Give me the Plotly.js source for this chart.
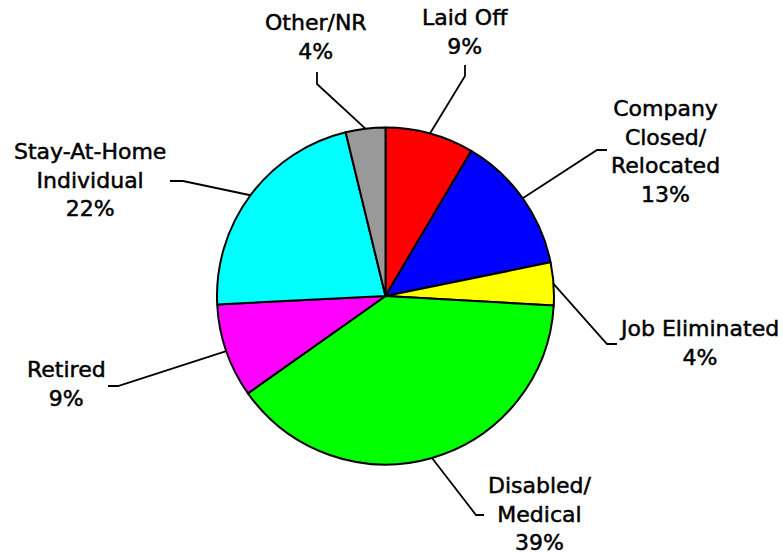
<!DOCTYPE html>
<html>
<head>
<meta charset="utf-8">
<script src="https://cdn.plot.ly/plotly-3.0.1.min.js"></script>
<style>
html,body{margin:0;padding:0;background:#fff;}
#chart{width:783px;height:554px;}
#chart .annotation-text{stroke:#000;stroke-width:0.5px;}
</style>
</head>
<body>
<div id="chart"></div>
<script>
// ---- data ----
const categories = ["Laid Off", "Company Closed/ Relocated", "Job Eliminated", "Disabled/ Medical", "Retired", "Stay-At-Home Individual", "Other/NR"];
const labelLines = ["Laid Off", "Company<br>Closed/<br>Relocated", "Job Eliminated", "Disabled/<br>Medical", "Retired", "Stay-At-Home<br>Individual", "Other/NR"];
const values = [8.5, 13.3, 4.1, 39.3, 9.0, 22.0, 3.8];
const percentLabels = ["9%", "13%", "4%", "39%", "9%", "22%", "4%"];
const colors = ["#FF0000", "#0000FF", "#FFFF00", "#00FF00", "#FF00FF", "#00FFFF", "#999999"];

// ---- layout constants (pixels) ----
const W = 783, H = 554;
const CX = 385.5, CY = 296, R = 168.5;
// label text centres and leader elbow points (pixels)
const labelPos = [[465, 32], [665, 151], [699, 343], [540, 514], [66, 384], [90, 180], [316, 37]];
const elbows = [[[465, 76], [465, 65]], [[597, 150], [607, 150]], [[607, 344], [617, 344]], [[476, 515], [484, 515]], [[118, 386], [108, 386]], [[183, 181], [170, 181]], [[317, 84], [317, 72]]];

const px = x => x / W;
const py = y => 1 - y / H;

const total = values.reduce((a, b) => a + b, 0);
let cum = 0;
const shapes = [];
const annotations = [];
values.forEach((v, i) => {
  const mid = (cum + v / 2) / total;
  cum += v;
  const ang = mid * 2 * Math.PI;
  const ax = CX + R * Math.sin(ang), ay = CY - R * Math.cos(ang);
  let path = `M ${px(ax)} ${py(ay)}`;
  elbows[i].forEach(p => { path += ` L ${px(p[0])} ${py(p[1])}`; });
  shapes.push({type: 'path', xref: 'paper', yref: 'paper', path: path, line: {color: '#000', width: 1.8}});
  annotations.push({
    xref: 'paper', yref: 'paper', x: px(labelPos[i][0]), y: py(labelPos[i][1]),
    xanchor: 'center', yanchor: 'middle', showarrow: false, align: 'center',
    text: labelLines[i] + '<br>' + percentLabels[i],
    font: {family: 'DejaVu Sans, Verdana, sans-serif', size: 22, color: '#000'}
  });
});

const trace = {
  type: 'pie',
  labels: categories,
  values: values,
  sort: false,
  direction: 'clockwise',
  rotation: 0,
  textinfo: 'none',
  hoverinfo: 'label+percent',
  marker: {colors: colors, line: {color: '#000', width: 2}},
  domain: {x: [px(CX - R), px(CX + R)], y: [py(CY + R), py(CY - R)]}
};

const layout = {
  width: W, height: H,
  margin: {l: 0, r: 0, t: 0, b: 0},
  showlegend: false,
  paper_bgcolor: '#fff',
  shapes: shapes,
  annotations: annotations
};

Plotly.newPlot('chart', [trace], layout, {displayModeBar: false, staticPlot: true});
</script>
</body>
</html>
